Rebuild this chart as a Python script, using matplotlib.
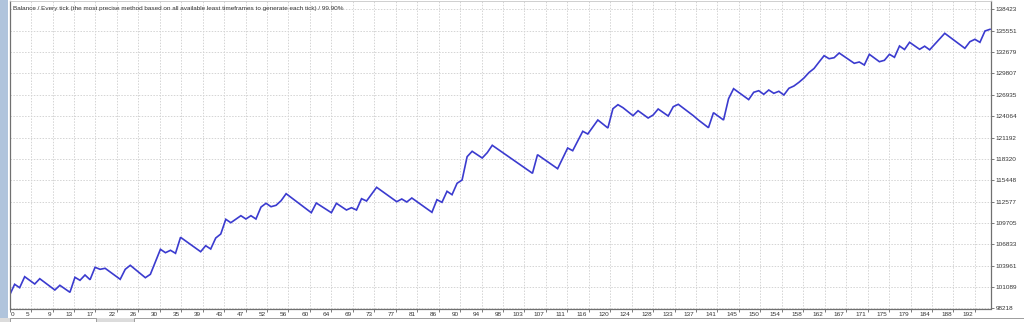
import matplotlib
matplotlib.use('Agg')
import matplotlib.pyplot as plt
from matplotlib.patches import Rectangle

# balance curve (trade number -> balance at turning points)
trades = [0, 1, 2, 3, 5, 6, 9, 10, 12, 13, 14, 15, 16, 17, 18, 19, 22, 23, 24, 27,
          28, 30, 31, 32, 33, 34, 38, 39, 40, 41, 42, 43, 44, 46, 47, 48, 49, 50, 51, 52,
          53, 54, 55, 60, 61, 64, 65, 67, 68, 69, 70, 71, 73, 77, 78, 79, 80, 84, 85, 86,
          87, 88, 89, 90, 91, 92, 94, 95, 96, 104, 105, 109, 111, 112, 114, 115, 117, 119, 120, 121,
          122, 124, 125, 127, 128, 129, 131, 132, 133, 136, 137, 139, 140, 142, 143, 144, 147, 148, 149, 150,
          151, 152, 153, 154, 155, 156, 157, 158, 159, 160, 161, 162, 163, 164, 165, 168, 169, 170, 171, 173,
          174, 175, 176, 177, 178, 179, 181, 182, 183, 186, 190, 191, 192, 193, 194, 195]
balance = [100000, 101470, 101014, 102492, 101511, 102223, 100704, 101336, 100395, 102411,
           102008, 102720, 102089, 103755, 103486, 103621, 102142, 103486, 104024, 102358,
           102814, 106174, 105718, 106040, 105637, 107787, 105852, 106658, 106215, 107693,
           108231, 110206, 109750, 110690, 110247, 110690, 110247, 111850, 112357, 111900,
           112088, 112706, 113647, 111094, 112397, 111094, 112357, 111456, 111766, 111456,
           112975, 112666, 114507, 112572, 112935, 112532, 113069, 111147, 112841, 112491,
           113970, 113513, 115045, 115488, 118620, 119346, 118445, 119158, 120152, 116389,
           118889, 117007, 119789, 119426, 122034, 121671, 123552, 122477, 125071, 125609,
           125206, 124130, 124802, 123821, 124224, 125031, 124090, 125340, 125662, 124130,
           123552, 122518, 124534, 123552, 126415, 127759, 126294, 127275, 127490, 127006,
           127584, 127141, 127410, 126912, 127813, 128122, 128619, 129197, 129936, 130474,
           131348, 132194, 131791, 131926, 132557, 131173, 131348, 130944, 132382, 131388,
           131576, 132382, 131979, 133498, 133028, 133995, 133054, 133471, 132987, 135205,
           133189, 134076, 134398, 133995, 135514, 135742]

y_ticks = [98218, 101089, 103961, 106833, 109705, 112577, 115448, 118320,
           121192, 124064, 126935, 129807, 132679, 135551, 138423]
x_labels = ['0', '5', '9', '13', '17', '22', '26', '30', '35', '39', '43', '47', '52', '56',
            '60', '64', '69', '73', '77', '81', '86', '90', '94', '98', '103', '107', '111',
            '116', '120', '124', '128', '133', '137', '141', '145', '150', '154', '158',
            '162', '167', '171', '175', '179', '184', '188', '192']

title = ('Balance / Every tick (the most precise method based on all available '
         'least timeframes to generate each tick) / 99.90%')

plt.rcParams['font.family'] = ['Liberation Sans', 'DejaVu Sans']
txt = '#333333'

W, H = 1024, 322
fig = plt.figure(figsize=(W / 100, H / 100), dpi=100)
fig.patch.set_facecolor('white')

left, right, bottom, top = 9.6, 990.5, 308.5, 1.0
ax = fig.add_axes([left / W, (H - bottom) / H, (right - left) / W, (bottom - top) / H])

ax.plot(trades, balance, color='#3b3bcf', linewidth=1.2, solid_joinstyle='miter')

step = 192 / 45
ax.set_xlim(0, 195.1)
ax.set_ylim(98218, 139546)
ax.set_xticks([i * step for i in range(len(x_labels))])
ax.set_xticklabels([])
ax.set_yticks(y_ticks)
ax.yaxis.tick_right()
ax.set_yticklabels([str(v) for v in y_ticks], fontsize=4.6, color=txt)
ax.tick_params(axis='y', length=2.5, width=0.6, color='#666666', pad=1)
ax.tick_params(axis='x', length=2, width=0.6, color='#666666')

for i, lab in enumerate(x_labels):
    xp = i * step
    if i == 0:
        ax.annotate(lab, (xp, 0), xycoords=('data', 'axes fraction'), xytext=(1, -3),
                    textcoords='offset pixels', ha='left', va='top', fontsize=4.6, color=txt)
    else:
        ax.annotate(lab, (xp, 0), xycoords=('data', 'axes fraction'), xytext=(-1.5, -3),
                    textcoords='offset pixels', ha='right', va='top', fontsize=4.6, color=txt)

ax.grid(True, color='#d4d4d4', linestyle=(0, (1.5, 1.5)), linewidth=0.7)
ax.set_axisbelow(True)
for s in ['left', 'bottom', 'right']:
    ax.spines[s].set_color('#707070')
    ax.spines[s].set_linewidth(0.9)
ax.spines['top'].set_color('#c8c8c8')
ax.spines['top'].set_linewidth(0.6)

ax.text(0.003, 0.977, title, transform=ax.transAxes, fontsize=4.6, color=txt,
        ha='left', va='center')

# window chrome: left panel and bottom tab strip
fig.patches.append(Rectangle((0, 0), 8 / W, 1, transform=fig.transFigure,
                             facecolor='#b0c4dc', edgecolor='none', zorder=0))
fig.patches.append(Rectangle((0, 0), 1, 4 / H, transform=fig.transFigure,
                             facecolor='#dcdcdc', edgecolor='none', zorder=0))
fig.patches.append(Rectangle((10 / W, -1 / H), 86 / W, 5 / H, transform=fig.transFigure,
                             facecolor='white', edgecolor='#909090', linewidth=0.6, zorder=1))
fig.patches.append(Rectangle((134 / W, -1 / H), 900 / W, 5 / H, transform=fig.transFigure,
                             facecolor='white', edgecolor='#909090', linewidth=0.6, zorder=1))

plt.savefig('out.png', dpi=100)
